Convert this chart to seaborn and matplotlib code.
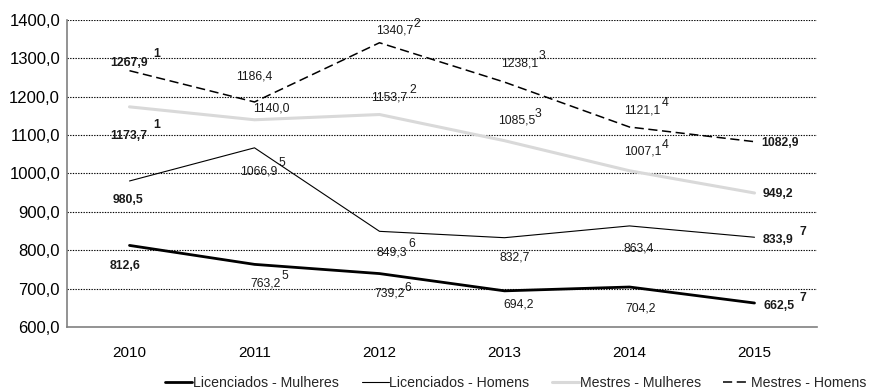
import matplotlib
matplotlib.use("Agg")
import matplotlib.pyplot as plt
import seaborn as sns
import pandas as pd

# Data
anos = ["2010", "2011", "2012", "2013", "2014", "2015"]
licenciados_mulheres = [812.6, 763.2, 739.2, 694.2, 704.2, 662.5]
licenciados_homens = [980.5, 1066.9, 849.3, 832.7, 863.4, 833.9]
mestres_mulheres = [1173.7, 1140.0, 1153.7, 1085.5, 1007.1, 949.2]
mestres_homens = [1267.9, 1186.4, 1340.7, 1238.1, 1121.1, 1082.9]
serie_nomes = ["Licenciados - Mulheres", "Licenciados - Homens",
               "Mestres - Mulheres", "Mestres - Homens"]

# Footnote markers per series and year ("" = none)
notas_lm = ["", "5", "6", "", "", "7"]
notas_lh = ["", "5", "6", "", "", "7"]
notas_mm = ["1", "", "2", "3", "4", ""]
notas_mh = ["1", "", "2", "3", "4", ""]

sns.set_theme(style="white")
plt.rcParams["font.family"] = ["Liberation Sans", "DejaVu Sans"]

fig = plt.figure(figsize=(8.7, 3.9), dpi=100)
ax = fig.add_axes([67 / 870, 1 - 327 / 390, 750 / 870, 307 / 390])

x = list(range(len(anos)))
series = [licenciados_mulheres, licenciados_homens, mestres_mulheres, mestres_homens]
estilos = [
    dict(color="black", lw=2.0),
    dict(color="black", lw=0.8),
    dict(color="#d9d9d9", lw=2.2),
    dict(color="black", lw=1.1, dashes=(6, 3)),
]
for nome, vals, st in zip(serie_nomes, series, estilos):
    df = pd.DataFrame({"ano": x, "valor": vals})
    kw = dict(color=st["color"], lw=st["lw"])
    line = sns.lineplot(data=df, x="ano", y="valor", ax=ax, label=nome, **kw)
    if "dashes" in st:
        line.lines[-1].set_dashes(st["dashes"])

# Value labels: pixel offsets from each point (label centre), plus footnote offsets
off_lm = [(-4, -21), (11, -19), (10, -20), (14, -14), (11, -21), (25, -3)]
off_lh = [(-1.5, -19), (4, -24), (12, -21), (10, -20), (9, -23), (24, -3)]
off_mm = [(-1, -29), (17, 11), (10, 17), (12, 20), (13, 19), (23, -1)]
off_mh = [(0, 8), (0, 25), (15, 12), (15, 19), (13, 17), (26, -1)]
sup_lm = [None, (30.5, -11.6), (28.5, -14.4), None, None, (48.5, 5)]
sup_lh = [None, (27.5, -15), (32.5, -12.7), None, None, (48.5, 5)]
sup_mm = [(27.5, -18), None, (33.5, 24.5), (33.5, 26.7), (35.5, 26), None]
sup_mh = [(27.5, 17), None, (37, 19), (37.5, 26), (35.5, 24), None]

negrito = {0, 5}
tc = "#1a1a1a"
for vals, offs, notas, sups in [
    (licenciados_mulheres, off_lm, notas_lm, sup_lm),
    (licenciados_homens, off_lh, notas_lh, sup_lh),
    (mestres_mulheres, off_mm, notas_mm, sup_mm),
    (mestres_homens, off_mh, notas_mh, sup_mh),
]:
    for i, v in enumerate(vals):
        fw = "bold" if i in negrito else "normal"
        txt = f"{v:.1f}".replace(".", ",")
        ax.annotate(txt, (i, v), xytext=offs[i], textcoords="offset pixels",
                    ha="center", va="center", fontsize=8.8, fontweight=fw,
                    color=tc, annotation_clip=False)
        if notas[i] and sups[i] is not None:
            ax.annotate(notas[i], (i, v), xytext=sups[i], textcoords="offset pixels",
                        ha="center", va="center", fontsize=8.8, fontweight=fw,
                        color=tc, annotation_clip=False)

# Axes styling
ax.set_xlim(-0.5, len(anos) - 0.5)
ax.set_ylim(600, 1400)
yt = list(range(600, 1401, 100))
ax.set_yticks(yt)
ax.set_yticklabels([f"{t:.1f}".replace(".", ",") for t in yt], fontsize=12, color="black")
ax.set_xticks(x)
ax.set_xticklabels(anos, fontsize=11, color="black")
ax.set_xticks([i - 0.5 for i in range(len(anos) + 1)], minor=True)
ax.tick_params(axis="x", which="major", length=0, pad=14)
ax.tick_params(axis="x", which="minor", length=4, color="#808080", width=1, direction="out")
ax.tick_params(axis="y", length=3, color="#808080", width=1, direction="out", pad=2)
ax.set_xlabel("")
ax.set_ylabel("")

for y in yt[1:]:
    ax.axhline(y, color="black", lw=0.8, ls=(0, (1.2, 1.2)), zorder=0)

for s in ["top", "right"]:
    ax.spines[s].set_visible(False)
for s in ["left", "bottom"]:
    ax.spines[s].set_color("#808080")
    ax.spines[s].set_linewidth(1.2)

handles, labels = ax.get_legend_handles_labels()
if ax.legend_:
    ax.legend_.remove()
fig.legend(handles, labels, loc="center", bbox_to_anchor=(516 / 870, 1 - 383 / 390),
           ncol=4, frameon=False, fontsize=10.2, handlelength=1.9, handletextpad=0.05,
           columnspacing=1.6, borderaxespad=0, borderpad=0)

fig.savefig("out.png", dpi=100)
